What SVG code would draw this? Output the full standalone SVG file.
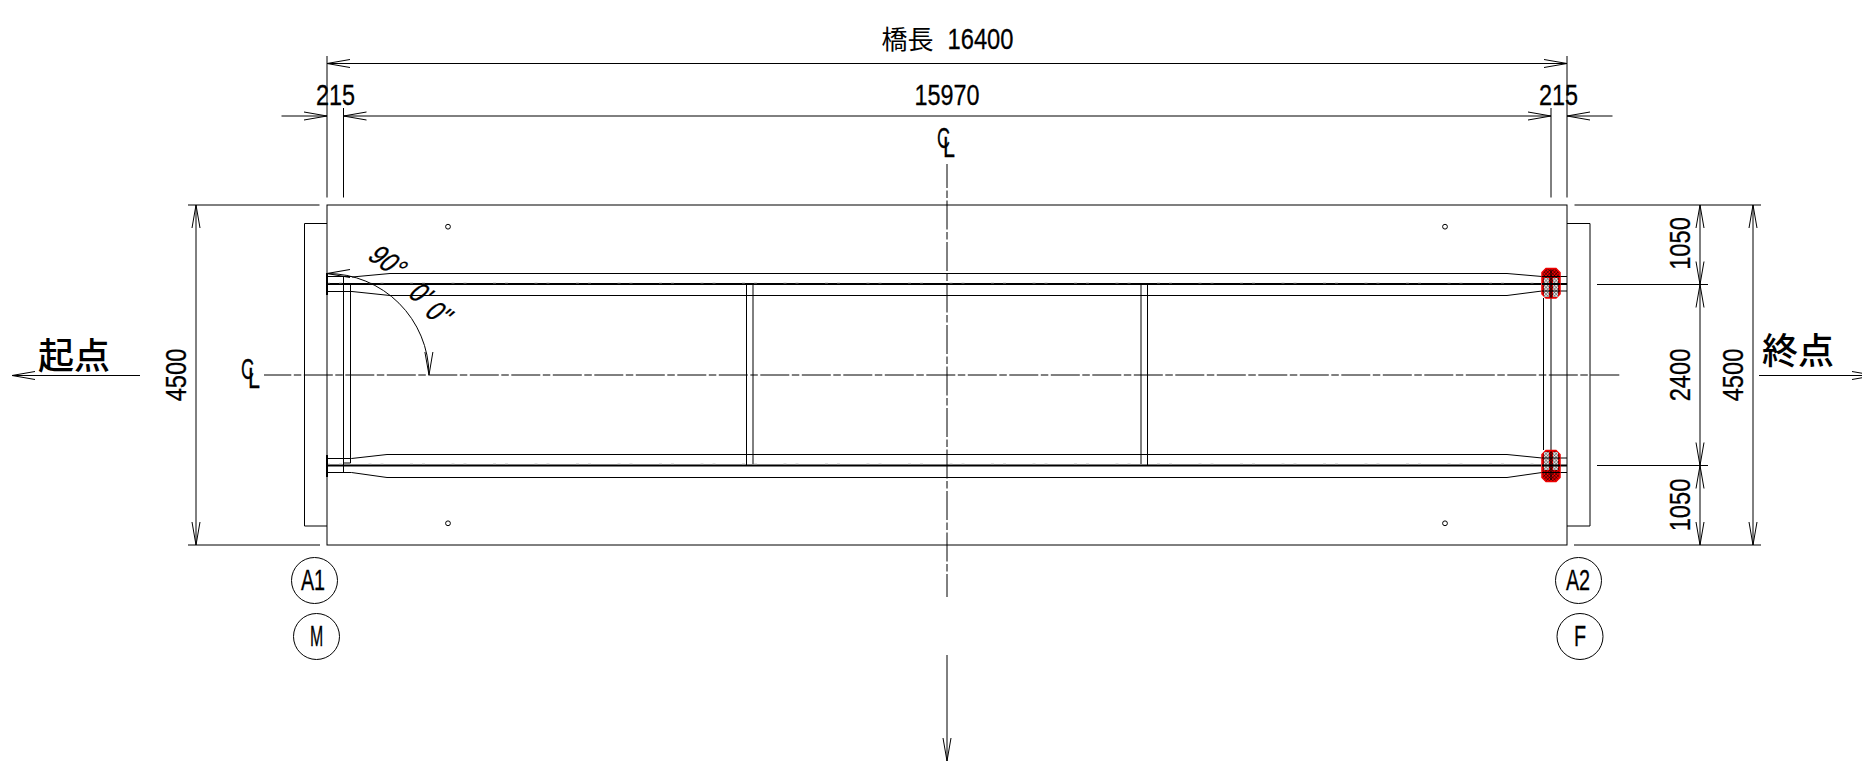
<svg xmlns="http://www.w3.org/2000/svg" width="1862" height="764" viewBox="0 0 1862 764">
<style>
.l{fill:none;stroke:#000;stroke-width:1}
.h{fill:none;stroke:#000;stroke-width:2}
.d{marker-start:url(#ah);marker-end:url(#ah)}
.e{marker-end:url(#ah)}
.s{marker-start:url(#ah)}
.cl{stroke-dasharray:29 2.5 7.5 2.5}
text{font-family:"Liberation Sans","Noto Sans CJK JP",sans-serif;font-size:30px;fill:#000;stroke:#000;stroke-width:.3;text-anchor:middle}
.k{font-family:"Noto Sans CJK JP",sans-serif;font-size:36px;font-weight:500;stroke:none}
.j{font-family:"Noto Sans CJK JP",sans-serif;font-size:26px;stroke:none}
.st{text-anchor:start}
.an{font-size:31px}
</style>
<defs>
<marker id="ah" markerUnits="userSpaceOnUse" viewBox="-24 -5 25 10" refX="0" refY="0" markerWidth="25" markerHeight="10" orient="auto-start-reverse" overflow="visible">
<path d="M-23,-4L0,0L-23,4" fill="none" stroke="#000" stroke-width="1"/>
</marker>
<pattern id="hr" width="2.4" height="2.4" patternUnits="userSpaceOnUse" patternTransform="rotate(45)">
<rect width="2.4" height="2.4" fill="#f00000"/><path d="M0,0H2.4M0,0V2.4" stroke="#000" stroke-width=".9"/>
</pattern>
<pattern id="hg" width="2.4" height="2.4" patternUnits="userSpaceOnUse" patternTransform="rotate(45)">
<rect width="2.4" height="2.4" fill="#e4e4e4"/><path d="M0,0H2.4M0,0V2.4" stroke="#333" stroke-width=".8"/>
</pattern>
</defs>
<rect width="1862" height="764" fill="#fff"/>

<g id="deck">
<rect class="l" x="327" y="205" width="1240" height="340"/>
<circle class="l" cx="448" cy="226.7" r="2.4"/>
<circle class="l" cx="1445" cy="226.7" r="2.4"/>
<circle class="l" cx="448" cy="523.3" r="2.4"/>
<circle class="l" cx="1445" cy="523.3" r="2.4"/>
</g>
<g id="abutment-a1"><path class="l" d="M327,223.5H304.5V526H327"/></g>
<g id="abutment-a2"><path class="l" d="M1567,223.5H1590V526H1567"/></g>

<g id="girder-upper">
<path class="l" d="M352,277L390,273.5H1507L1542,276.5"/>
<path class="l" d="M327,276.5H352"/>
<path class="l" d="M327,291.5H352L390,295.5H1507L1542,291"/>
<path class="h" d="M327,284H1541"/>
<path d="M327,283H1541" fill="none" stroke="#aaa" stroke-width=".7" stroke-dasharray="3 9 3 26.5"/>
<path d="M327,273V295" fill="none" stroke="#000" stroke-width="2"/>
<path class="l" d="M1560,276.5H1567M1560,291H1567"/>
<path class="h" d="M1560,284H1567"/>
</g>
<g id="girder-lower">
<path class="l" d="M327,458.5H351.5L387,454.5H1507L1542,458"/>
<path class="l" d="M327,472.5H351.5L387,477.5H1507L1542,472.5"/>
<path class="h" d="M327,465.5H1541"/>
<path d="M327,464H1541" fill="none" stroke="#aaa" stroke-width=".7" stroke-dasharray="3 9 3 26.5"/>
<path d="M327,455V477" fill="none" stroke="#000" stroke-width="2"/>
<path class="l" d="M1560,458H1567M1560,472.5H1567"/>
<path class="h" d="M1560,465.5H1567"/>
</g>
<g id="crossbeams">
<path class="l" d="M343.5,276.5V472.5M350.5,285V463H343.5"/>
<path class="l" d="M746.5,284V466M753,284V464"/>
<path class="l" d="M1141,284V464M1147.5,284V466"/>
<path class="l" d="M1543.5,298V450M1551,298V450"/>
</g>
<g id="bearing-upper">
<path d="M1546,268.5H1556L1560,272.5V294L1556,298H1546L1542,294V272.5Z" fill="url(#hr)" stroke="#f00000" stroke-width="1.5"/>
<rect x="1544" y="278" width="5" height="19" fill="url(#hg)"/><rect x="1553" y="278" width="5" height="19" fill="url(#hg)"/>
<path class="l" d="M1542,276.5H1560M1542,291H1560M1551,270V298"/><path class="h" d="M1542,284H1560"/>
</g>
<g id="bearing-lower">
<path d="M1546,450.5H1556L1560,454.5V477.5L1556,481.5H1546L1542,477.5V454.5Z" fill="url(#hr)" stroke="#f00000" stroke-width="1.5"/>
<rect x="1544" y="452" width="5" height="18" fill="url(#hg)"/><rect x="1553" y="452" width="5" height="18" fill="url(#hg)"/>
<path class="l" d="M1542,458H1560M1542,472.5H1560M1551,452V480"/><path class="h" d="M1542,465.5H1560"/>
</g>

<g id="connectors">
<path class="l cl" stroke-dashoffset="1.7" d="M264,375H1619.5"/>
<path class="l cl" stroke-dashoffset="5" d="M947,164V597"/>
<path class="l e" d="M947,655V761"/>
<path class="l e" d="M140,375.5H12"/>
<path class="l e" d="M1759,375.5H1875"/>
<path class="l" d="M327,56V197.5M343.5,108V197.5M1551,108V197.5M1567,56V197.5"/>
<path class="l" d="M188,205H319.5M1574.5,205H1761M188,545H320M1574,545H1761"/>
<path class="l" d="M1597,284.5H1708M1597,465.5H1708"/>
<path class="l d" d="M327,63.5H1567"/>
<path class="l e" d="M281.5,116H327"/>
<path class="l d" d="M343.5,116H1551"/>
<path class="l s" d="M1567,116H1612.5"/>
<path class="l d" d="M196,205V545"/>
<path class="l d" d="M1753,205V545"/>
<path class="l d" d="M1700,205V284.5"/>
<path class="l d" d="M1700,284.5V465.5"/>
<path class="l d" d="M1700,465.5V545"/>
<path class="l d" d="M327,273.5A102,102 0 0 1 429,375"/>
</g>

<g id="labels">
<text class="st" y="49"><tspan class="j" x="881.5">橋長 </tspan><tspan x="947.5" textLength="66" lengthAdjust="spacingAndGlyphs">16400</tspan></text>
<text transform="translate(947,105) scale(.78,1)">15970</text>
<text transform="translate(335.5,105) scale(.78,1)">215</text>
<text transform="translate(1558.5,105) scale(.78,1)">215</text>
<text class="st"><tspan x="937" y="148" textLength="13" lengthAdjust="spacingAndGlyphs">C</tspan><tspan x="943" y="157" textLength="12" lengthAdjust="spacingAndGlyphs">L</tspan></text>
<text class="st"><tspan x="241" y="379" textLength="13" lengthAdjust="spacingAndGlyphs">C</tspan><tspan x="248" y="388" textLength="12" lengthAdjust="spacingAndGlyphs">L</tspan></text>
<text class="k" x="74" y="369">起点</text>
<text class="k" x="1798" y="364">終点</text>
<text transform="translate(186,375) rotate(-90) scale(.79,1)">4500</text>
<text transform="translate(1690,243.5) rotate(-90) scale(.79,1)">1050</text>
<text transform="translate(1690,375) rotate(-90) scale(.79,1)">2400</text>
<text transform="translate(1743,375) rotate(-90) scale(.79,1)">4500</text>
<text transform="translate(1690,505) rotate(-90) scale(.79,1)">1050</text>
<text class="st an" transform="matrix(.62,.44,-.72,.63,366,258)">90°</text>
<text class="st an" transform="matrix(.62,.44,-.72,.63,406.5,295.5)">0'</text>
<text class="st an" transform="matrix(.62,.44,-.72,.63,423,314)">0"</text>
</g>

<g id="mark-a1"><circle class="l" cx="314.5" cy="580.5" r="23"/><text transform="translate(313,590) scale(.66,1)">A1</text></g>
<g id="mark-m"><circle class="l" cx="316.5" cy="636.5" r="23"/><text transform="translate(316.5,646) scale(.53,1)">M</text></g>
<g id="mark-a2"><circle class="l" cx="1578.5" cy="580.5" r="23"/><text transform="translate(1578,590) scale(.66,1)">A2</text></g>
<g id="mark-f"><circle class="l" cx="1580" cy="636.5" r="23"/><text transform="translate(1580,646) scale(.66,1)">F</text></g>
</svg>
